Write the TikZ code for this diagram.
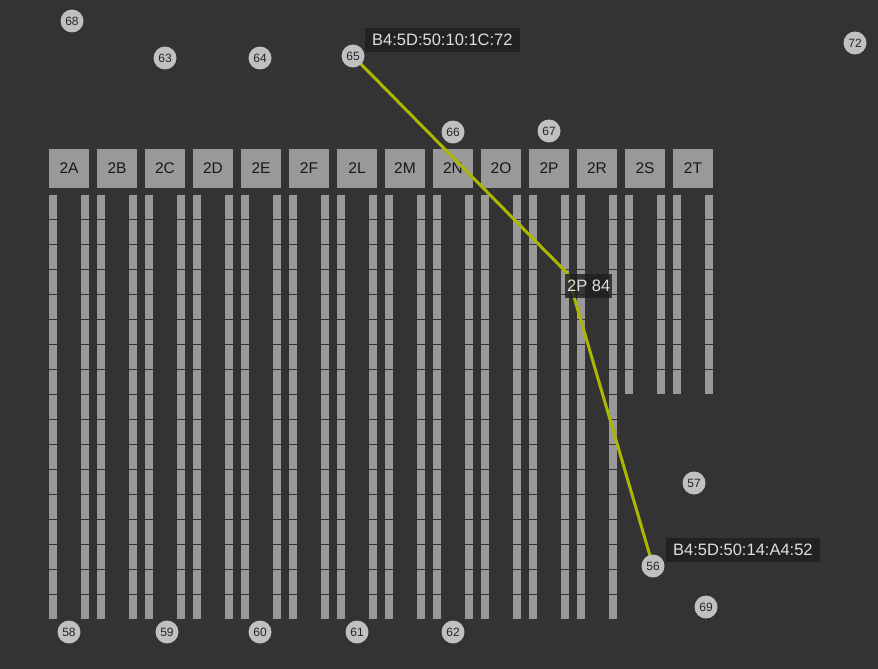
\documentclass[tikz,border=0pt]{standalone}
\usepackage{fontspec}
\setmainfont{Liberation Sans}
\usetikzlibrary{positioning}
\definecolor{panel}{RGB}{51,51,51}
\definecolor{rackgray}{RGB}{153,153,153}
\definecolor{devgray}{RGB}{192,192,192}
\definecolor{tagbg}{RGB}{30,30,30}
\definecolor{tagtext}{RGB}{222,222,222}
\definecolor{linkgreen}{RGB}{170,185,0}
\pgfdeclarelayer{racks}
\pgfdeclarelayer{wires}
\pgfsetlayers{racks,wires,main}
\tikzset{
  rackhead/.style={fill=rackgray, minimum width=40pt, minimum height=39pt, inner sep=0pt,
    text=black!90, font=\fontsize{15.5}{15.5}\selectfont},
  dev/.style={circle, fill=devgray, minimum size=23pt, inner sep=0pt,
    text=black!85, font=\fontsize{12}{12}\selectfont},
  tag/.style={fill=tagbg, fill opacity=0.8, text opacity=1, text=tagtext, minimum height=24pt,
    inner xsep=7pt, inner ysep=0pt, anchor=west, font=\fontsize{16.5}{16.5}\selectfont},
  link/.style={linkgreen, line width=3pt}
}

\begin{document}
\begin{tikzpicture}[x=1pt, y=-1pt]
  \useasboundingbox (0,0) rectangle (878,669);
  \begin{pgfonlayer}{racks}
    \fill[panel] (0,0) rectangle (878,669);
    % Rack headers and bars
    \foreach \name/\n [count=\i from 0] in {A/17,B/17,C/17,D/17,E/17,F/17,L/17,M/17,N/17,O/17,P/17,R/17,S/8,T/8} {
      \node[rackhead] (r2\name) at ({69+48*\i},168.5) {2\name};
      \foreach \k in {1,...,\n} {
        \fill[rackgray] ({49+48*\i},{170+25*\k}) rectangle +(8,24);
        \fill[rackgray] ({81+48*\i},{170+25*\k}) rectangle +(8,24);
      }
    }
  \end{pgfonlayer}

  % Devices
  \node[dev] (n68) at (72,21) {68};
  \node[dev] (n63) at (165,58) {63};
  \node[dev] (n64) at (260,58) {64};
  \node[dev] (n65) at (353,56) {65};
  \node[dev] (n66) at (453,132) {66};
  \node[dev] (n67) at (549,131) {67};
  \node[dev] (n72) at (855,43) {72};
  \node[dev] (n57) at (694,483) {57};
  \node[dev] (n56) at (653,566) {56};
  \node[dev] (n69) at (706,607) {69};
  \node[dev] (n58) at (69,632) {58};
  \node[dev] (n59) at (167,632) {59};
  \node[dev] (n60) at (260,632) {60};
  \node[dev] (n61) at (357,632) {61};
  \node[dev] (n62) at (453,632) {62};

  % Path through port
  \coordinate (p84) at (567,273);
  \begin{pgfonlayer}{wires}
    \draw[link] (n65.center) -- (p84) -- (n56.center);
  \end{pgfonlayer}

  % Tags
  \node[tag] (mac65) at (365,40) {B4:5D:50:10:1C:72};
  \node[tag, inner xsep=2pt] (port84) at (565,286) {2P 84};
  \node[tag] (mac56) at (666,550) {B4:5D:50:14:A4:52};
\end{tikzpicture}
\end{document}
